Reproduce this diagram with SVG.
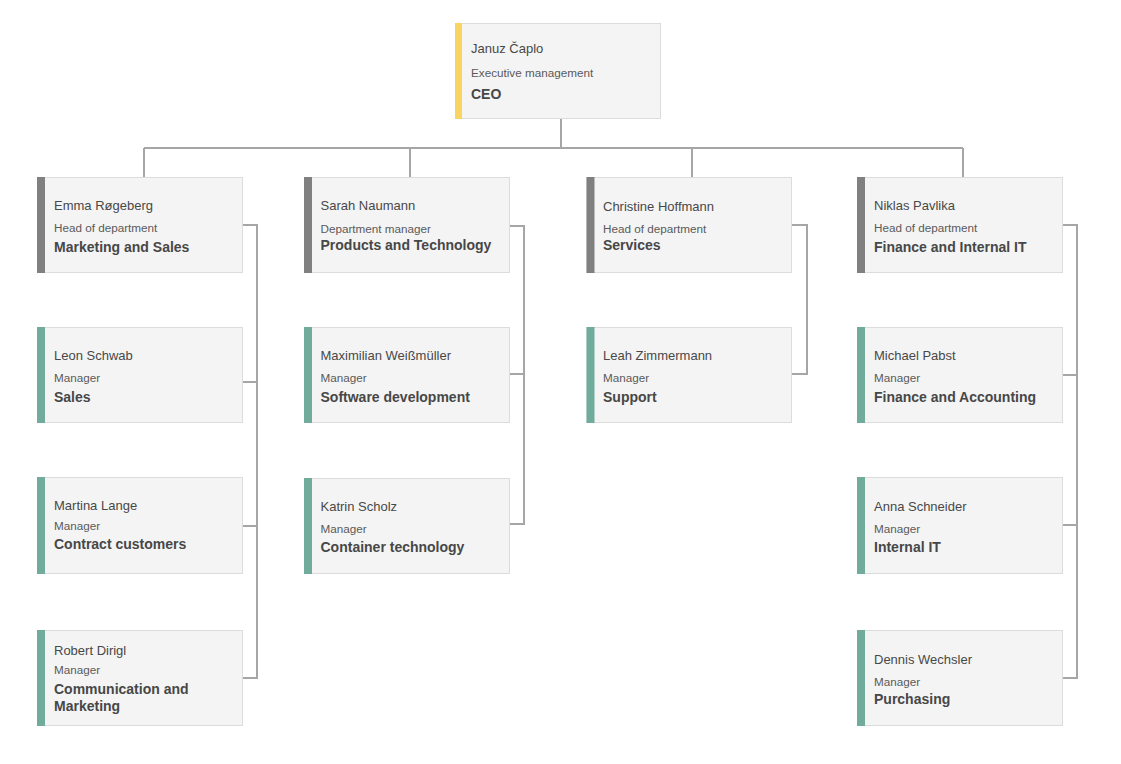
<svg xmlns="http://www.w3.org/2000/svg" width="1121" height="764" viewBox="0 0 1121 764">
<defs>
<style>
.box{fill:#f4f4f4;stroke:#dcdcdc;stroke-width:1}
.bar-y{fill:#f8d563}
.bar-g{fill:#808080}
.bar-t{fill:#71ab9b}
.nm{font-family:"Liberation Sans",Arial,sans-serif;font-size:13px;fill:#484848}
.rl{font-family:"Liberation Sans",Arial,sans-serif;font-size:11.7px;fill:#5a5a5a}
.dp{font-family:"Liberation Sans",Arial,sans-serif;font-size:14px;font-weight:bold;fill:#474747}
.ln{fill:none;stroke:#a6a6a6;stroke-width:2}
</style>
</defs>
<rect width="1121" height="764" fill="#ffffff"/>
<g id="connectors">
<path class="ln" d="M561 118.5V148M144 148H963M144 148V177.5M410 148V177.5M692 148V177.5M963 148V177.5"/>
<path class="ln" d="M242.5 225H257V678H242.5M242.5 382H257M242.5 526H257"/>
<path class="ln" d="M509.5 226H524V524H509.5M509.5 374H524"/>
<path class="ln" d="M791.5 225H807V374H791.5"/>
<path class="ln" d="M1062.5 225H1077V678H1062.5M1062.5 375H1077M1062.5 525H1077"/>
</g>
<g id="ceo">
<rect class="box" x="455.5" y="23.5" width="205" height="95"/>
<rect class="bar-y" x="455" y="23" width="7" height="96"/>
<text class="nm" x="471" y="52.5">Januz Čaplo</text>
<text class="rl" x="471" y="77">Executive management</text>
<text class="dp" x="471" y="98.5">CEO</text>
</g>
<g id="emma">
<rect class="box" x="37.5" y="177.5" width="205" height="95"/>
<rect class="bar-g" x="37" y="177" width="8" height="96"/>
<text class="nm" x="54" y="209.5">Emma Røgeberg</text>
<text class="rl" x="54" y="232">Head of department</text>
<text class="dp" x="54" y="251.5">Marketing and Sales</text>
</g>
<g id="leon">
<rect class="box" x="37.5" y="327.5" width="205" height="95"/>
<rect class="bar-t" x="37" y="327" width="8" height="96"/>
<text class="nm" x="54" y="359.5">Leon Schwab</text>
<text class="rl" x="54" y="382">Manager</text>
<text class="dp" x="54" y="401.5">Sales</text>
</g>
<g id="martina">
<rect class="box" x="37.5" y="477.5" width="205" height="96"/>
<rect class="bar-t" x="37" y="477" width="8" height="97"/>
<text class="nm" x="54" y="509.5">Martina Lange</text>
<text class="rl" x="54" y="530">Manager</text>
<text class="dp" x="54" y="548.5">Contract customers</text>
</g>
<g id="robert">
<rect class="box" x="37.5" y="630.5" width="205" height="95"/>
<rect class="bar-t" x="37" y="630" width="8" height="96"/>
<text class="nm" x="54" y="655">Robert Dirigl</text>
<text class="rl" x="54" y="674">Manager</text>
<text class="dp" x="54" y="693.5">Communication and</text>
<text class="dp" x="54" y="710.5">Marketing</text>
</g>
<g id="sarah">
<rect class="box" x="304.5" y="177.5" width="205" height="95"/>
<rect class="bar-g" x="304" y="177" width="8" height="96"/>
<text class="nm" x="320.5" y="210">Sarah Naumann</text>
<text class="rl" x="320.5" y="232.5">Department manager</text>
<text class="dp" x="320.5" y="250">Products and Technology</text>
</g>
<g id="maximilian">
<rect class="box" x="304.5" y="327.5" width="205" height="95"/>
<rect class="bar-t" x="304" y="327" width="8" height="96"/>
<text class="nm" x="320.5" y="360">Maximilian Weißmüller</text>
<text class="rl" x="320.5" y="382">Manager</text>
<text class="dp" x="320.5" y="401.5">Software development</text>
</g>
<g id="katrin">
<rect class="box" x="304.5" y="478.5" width="205" height="95"/>
<rect class="bar-t" x="304" y="478" width="8" height="96"/>
<text class="nm" x="320.5" y="510.5">Katrin Scholz</text>
<text class="rl" x="320.5" y="532.5">Manager</text>
<text class="dp" x="320.5" y="552">Container technology</text>
</g>
<g id="christine">
<rect class="box" x="587" y="177.5" width="204.5" height="95"/>
<rect class="bar-g" x="586.5" y="177" width="8" height="96"/>
<text class="nm" x="603" y="210.5">Christine Hoffmann</text>
<text class="rl" x="603" y="232.5">Head of department</text>
<text class="dp" x="603" y="249.5">Services</text>
</g>
<g id="leah">
<rect class="box" x="587" y="327.5" width="204.5" height="95"/>
<rect class="bar-t" x="586.5" y="327" width="8" height="96"/>
<text class="nm" x="603" y="360">Leah Zimmermann</text>
<text class="rl" x="603" y="382">Manager</text>
<text class="dp" x="603" y="401.5">Support</text>
</g>
<g id="niklas">
<rect class="box" x="857.5" y="177.5" width="205" height="95"/>
<rect class="bar-g" x="857" y="177" width="8" height="96"/>
<text class="nm" x="874" y="209.5">Niklas Pavlika</text>
<text class="rl" x="874" y="232">Head of department</text>
<text class="dp" x="874" y="251.5">Finance and Internal IT</text>
</g>
<g id="michael">
<rect class="box" x="857.5" y="327.5" width="205" height="95"/>
<rect class="bar-t" x="857" y="327" width="8" height="96"/>
<text class="nm" x="874" y="359.5">Michael Pabst</text>
<text class="rl" x="874" y="382">Manager</text>
<text class="dp" x="874" y="401.5">Finance and Accounting</text>
</g>
<g id="anna">
<rect class="box" x="857.5" y="477.5" width="205" height="96"/>
<rect class="bar-t" x="857" y="477" width="8" height="97"/>
<text class="nm" x="874" y="510.5">Anna Schneider</text>
<text class="rl" x="874" y="532.5">Manager</text>
<text class="dp" x="874" y="552">Internal IT</text>
</g>
<g id="dennis">
<rect class="box" x="857.5" y="630.5" width="205" height="95"/>
<rect class="bar-t" x="857" y="630" width="8" height="96"/>
<text class="nm" x="874" y="664">Dennis Wechsler</text>
<text class="rl" x="874" y="686">Manager</text>
<text class="dp" x="874" y="704">Purchasing</text>
</g>
</svg>
